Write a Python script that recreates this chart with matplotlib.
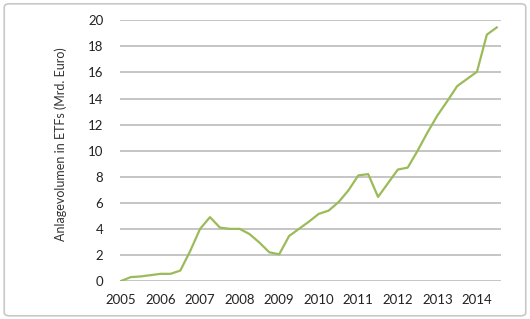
import numpy as np
import matplotlib.pyplot as plt
from matplotlib.patches import FancyBboxPatch

# quarterly values, 2005 Q1 .. 2014 Q3 (Mrd. Euro)
werte = [0.0, 0.3, 0.35, 0.45, 0.55, 0.55, 0.8, 2.3,
         4.0, 4.9, 4.1, 4.0, 4.0, 3.6, 2.95, 2.2,
         2.05, 3.45, 4.0, 4.55, 5.15, 5.4, 6.05, 6.95,
         8.1, 8.2, 6.45, 7.5, 8.55, 8.7, 10.0, 11.4,
         12.7, 13.8, 14.95, 15.5, 16.05, 18.9, 19.45]
jahre = ['2005', '2006', '2007', '2008', '2009',
         '2010', '2011', '2012', '2013', '2014']
yticks = [0, 2, 4, 6, 8, 10, 12, 14, 16, 18, 20]

plt.rcParams['font.family'] = ['Lato', 'DejaVu Sans']

fig = plt.figure(figsize=(5.3, 3.19), dpi=100)
fig.patches.append(FancyBboxPatch((0.008, 0.01), 0.984, 0.978,
                                  boxstyle='round,pad=0,rounding_size=0.01',
                                  transform=fig.transFigure, fill=False,
                                  edgecolor='#c8c8c8', linewidth=1.2))

ax = fig.add_axes([0.2264, 0.1191, 0.7183, 0.8173])
x = np.arange(len(werte))
ax.plot(x, werte, color='#9bbb59', linewidth=1.6)

ax.set_ylim(0, 20)
ax.set_xlim(-0.1, 38.4)
ax.set_yticks(yticks)
ax.set_xticks(np.arange(len(jahre)) * 4)
ax.set_xticklabels(jahre)
ax.grid(axis='y', color='#c0c0c0', linewidth=1.3)
ax.set_axisbelow(True)
for s in ax.spines.values():
    s.set_visible(False)
ax.tick_params(length=0, labelsize=9.5, colors='#222222')
ax.tick_params(axis='y', pad=12)
ax.tick_params(axis='x', pad=9)

ax.set_ylabel('Anlagevolumen in ETFs (Mrd. Euro)', fontsize=9, color='#333333')
ax.yaxis.set_label_coords(-0.14, 0.525)

fig.savefig('out.png', dpi=100)
